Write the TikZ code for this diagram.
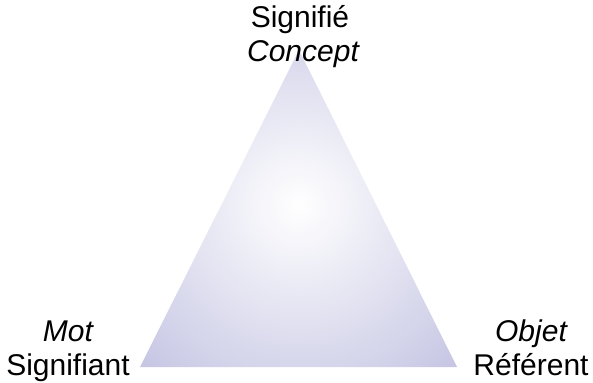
\documentclass[tikz,border=0pt]{standalone}
\usepackage{fontspec}
\setmainfont{Liberation Sans}
\definecolor{lav}{RGB}{148,148,204}
\begin{document}
\begin{tikzpicture}[x=1pt,y=-1pt,
  lbl/.style={anchor=base,inner sep=0pt,font=\fontsize{30}{34}\selectfont,text=black}]
\useasboundingbox (0,0) rectangle (593,382);
\coordinate (top) at (299,50);
\coordinate (bl) at (140,367);
\coordinate (br) at (457,367);
\begin{scope}
  \clip (top) -- (bl) -- (br) -- cycle;
  \shade[inner color=white,outer color=lav] (298.5,205) circle (420);
\end{scope}
\node[lbl] (signifie) at (300,28) {Signifié};
\node[lbl] (concept) at (303,62) {\itshape Concept};
\node[lbl] (mot) at (68,341) {\itshape Mot};
\node[lbl] (signifiant) at (68,375) {Signifiant};
\node[lbl] (objet) at (531,341) {\itshape Objet};
\node[lbl] (referent) at (531,375) {Référent};
\end{tikzpicture}
\end{document}
